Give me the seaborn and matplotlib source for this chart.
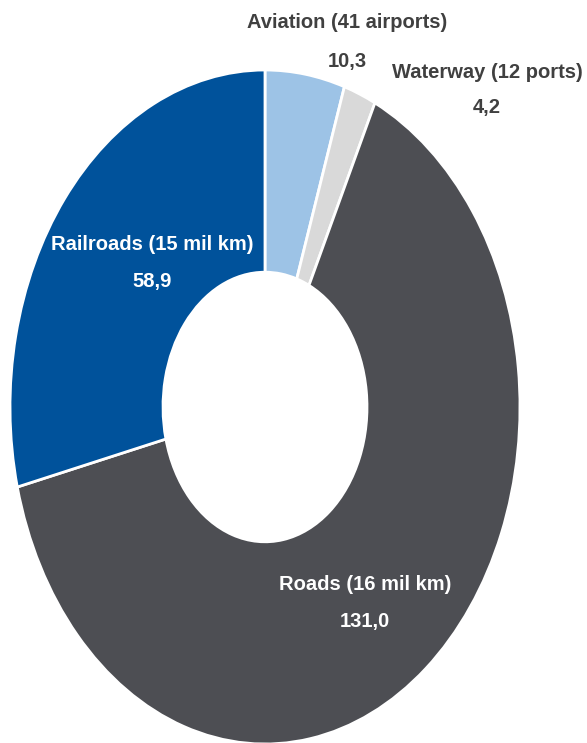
import matplotlib
matplotlib.use("Agg")
import matplotlib.pyplot as plt
import seaborn as sns

# Transport infrastructure investment by mode
categories = ["Aviation (41 airports)", "Waterway (12 ports)", "Roads (16 mil km)", "Railroads (15 mil km)"]
values = [10.3, 4.2, 131.0, 58.9]
colors = ["#9DC3E6", "#D9D9D9", "#4D4E53", "#00529B"]
text_colors = ["#404040", "#404040", "#FFFFFF", "#FFFFFF"]

sns.set_theme(style="white")
plt.rcParams["font.family"] = ["Liberation Sans Narrow", "Liberation Sans", "DejaVu Sans"]

W, H = 587, 743
fig = plt.figure(figsize=(W / 100, H / 100), dpi=100)
fig.patch.set_facecolor("white")

# Axes box in pixels (left, top, width, height); the ring is stretched to fill it
left, top, w, h = 10, 70, 510, 674
ax = fig.add_axes([left / W, (H - top - h) / H, w / W, h / H])
ax.pie(values, colors=colors, startangle=90, counterclock=False,
       wedgeprops=dict(width=0.6, edgecolor="white", linewidth=2))
ax.set_aspect("auto")
ax.set_xlim(-1, 1)
ax.set_ylim(-1, 1)
ax.axis("off")

# Label anchor points in pixels (name line, value line)
label_pos = [(347, 22, 62), (487, 73, 107), (365, 585, 622), (152, 245, 282)]
for cat, val, tc, (x, y1, y2) in zip(categories, values, text_colors, label_pos):
    fig.text(x / W, 1 - y1 / H, cat, ha="center", va="center",
             fontsize=14.5, fontweight="bold", color=tc)
    fig.text(x / W, 1 - y2 / H, f"{val:.1f}".replace(".", ","), ha="center", va="center",
             fontsize=14.5, fontweight="bold", color=tc)

fig.savefig("out.png", dpi=100, facecolor="white")
